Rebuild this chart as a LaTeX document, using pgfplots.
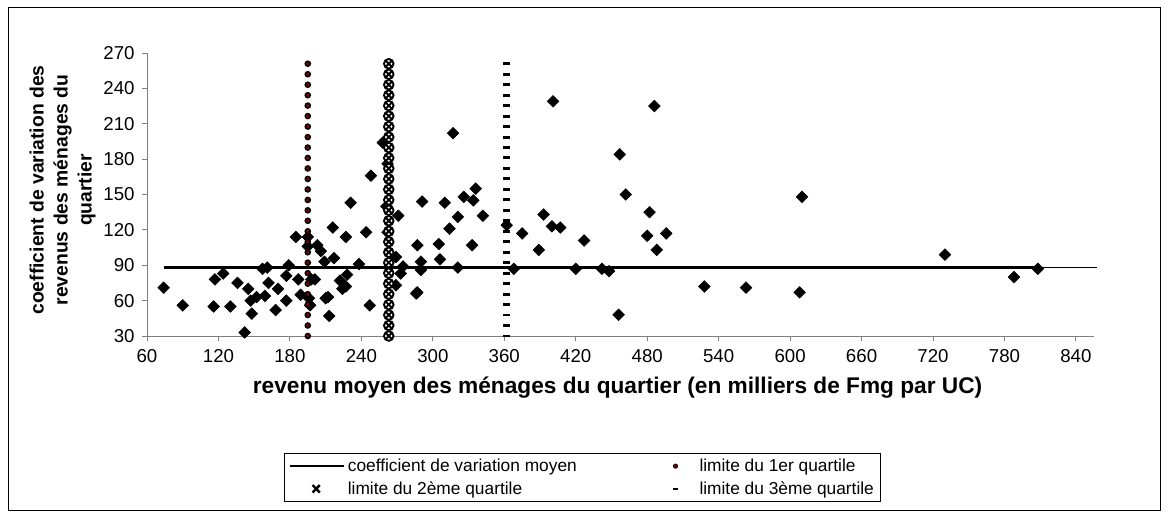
\documentclass[border=0pt]{standalone}
\usepackage{pgfplots}
\pgfplotsset{compat=1.18}
\usepackage{pgfplotstable}
\usepackage{fontspec}
\setmainfont{Liberation Sans}
\definecolor{darkred}{HTML}{800000}
\definecolor{axgray}{HTML}{808080}

\pgfplotstableread{
x y
74 71
90 56
116 55
117 78
124 83
130 55
136 75
142 33
145 70
147 60
148 49
152 63
157 87
159 64
161 88
162 75
168 52
170 70
177 60
177 81
179 90
185 114
187 78
189 65
195 106
195 114
196 62
197 56
198 78
201 78
203 107
206 102
209 93
210 62
212 63
213 47
216 122
217 96
222 77
224 70
227 72
227 114
228 82
231 143
238 91
244 118
247 56
248 166
258 194
261 140
262 118
262 176
269 97
269 73
271 132
273 83
275 89
286 66
287 67
287 107
290 93
290 86
291 144
305 108
306 95
310 143
314 121
317 202
321 131
321 88
326 148
333 107
334 145
336 155
342 132
362 124
368 87
375 117
389 103
393 133
400 123
401 229
407 122
420 87
427 111
442 87
448 85
456 48
457 184
462 150
480 115
482 135
486 225
488 103
496 117
528 72
563 71
608 67
610 148
730 99
788 80
808 87
}\pts

\pgfplotstableread{
y q1 q2 q3
30.0 195 263 362
38.9 195 263 362
47.8 195 263 362
56.6 195 263 362
65.5 195 263 362
74.4 195 263 362
83.3 195 263 362
92.2 195 263 362
101.0 195 263 362
109.9 195 263 362
118.8 195 263 362
127.7 195 263 362
136.6 195 263 362
145.4 195 263 362
154.3 195 263 362
163.2 195 263 362
172.1 195 263 362
181.0 195 263 362
189.8 195 263 362
198.7 195 263 362
207.6 195 263 362
216.5 195 263 362
225.4 195 263 362
234.2 195 263 362
243.1 195 263 362
252.0 195 263 362
260.9 195 263 362
}\quart

\begin{document}
\begin{tikzpicture}[x=0.75pt,y=0.75pt]
\path[use as bounding box] (0,0) rectangle (1168,519);
\draw[black, line width=0.75pt] (8,9) rectangle (1160,511);
\begin{axis}[
  at={(110.25pt,137.25pt)}, anchor=south west,
  scale only axis, width=710.1pt, height=212.25pt,
  xmin=60, xmax=855, ymin=30, ymax=270,
  xtick={60,120,...,840}, ytick={30,60,...,270},
  axis x line*=bottom, axis y line*=left,
  axis line style={-, draw=axgray, line width=0.75pt},
  every tick/.style={axgray, line width=0.75pt},
  tick align=outside, major tick length=3.75pt,
  tick label style={font=\fontsize{14}{16}\selectfont, black},
  /pgf/number format/assume math mode=true,
  yticklabel style={xshift=-2pt},
  xticklabel style={yshift=-3pt},
  xlabel={revenu moyen des ménages du quartier (en milliers de Fmg par UC)},
  xlabel style={font=\bfseries\fontsize{17}{20}\selectfont, at={(axis description cs:0.497,-0.184)}, anchor=center},
  ylabel={coefficient de variation des\\revenus des ménages du\\quartier},
  ylabel style={font=\bfseries\fontsize{14.5}{18}\selectfont, align=center, at={(axis description cs:-0.089,0.516)}, anchor=center},
  clip=false,
  legend columns=2,
  legend cell align=left,
  legend style={at={(axis description cs:0.46,-0.5)}, anchor=center, draw=black, line width=0.75pt,
    font=\fontsize{13}{15}\selectfont, /tikz/every even column/.append style={column sep=60pt}, row sep=2pt},
]
\addplot[only marks, mark=square*, mark size=3.1pt, mark options={rotate=45, fill=black, draw=black}, forget plot] table[x=x, y=y] {\pts};
\addplot[black, line width=0.75pt, forget plot] coordinates {(808,88.3) (858,88.3)};
\addplot[black, line width=2.25pt, legend image code/.code={\draw[black, line width=1.5pt] (0pt,0pt) -- (41pt,0pt);}] coordinates {(74,88.3) (808,88.3)};
\addlegendentry{coefficient de variation moyen}
\addplot[only marks, mark=*, mark size=1.9pt, mark options={fill=darkred, draw=black, line width=1.1pt},
  legend image code/.code={\path[draw=none, fill=none] (0pt,-1pt) rectangle (28pt,1pt); \draw[black, fill=darkred, line width=0.6pt] (12pt,0pt) circle (1.6pt);}] table[x=q1, y=y] {\quart};
\addlegendentry{limite du 1er quartile}
\addplot[only marks, mark=otimes*, mark size=3.6pt, mark options={fill=white, draw=black, line width=1.4pt},
  legend image code/.code={\draw[black, line width=1.8pt] (17.3pt,-2.8pt) -- (22.7pt,2.8pt) (17.3pt,2.8pt) -- (22.7pt,-2.8pt);}] table[x=q2, y=y] {\quart};
\addlegendentry{limite du 2ème quartile}
\addplot[only marks, mark=-, mark size=2.6pt, mark options={draw=black, line width=2.2pt},
  legend image code/.code={\path[draw=none, fill=none] (0pt,-1pt) rectangle (28pt,1pt); \draw[black, line width=1.7pt] (10pt,0pt) -- (14pt,0pt);}] table[x=q3, y=y] {\quart};
\addlegendentry{limite du 3ème quartile}
\end{axis}
\end{tikzpicture}
\end{document}
